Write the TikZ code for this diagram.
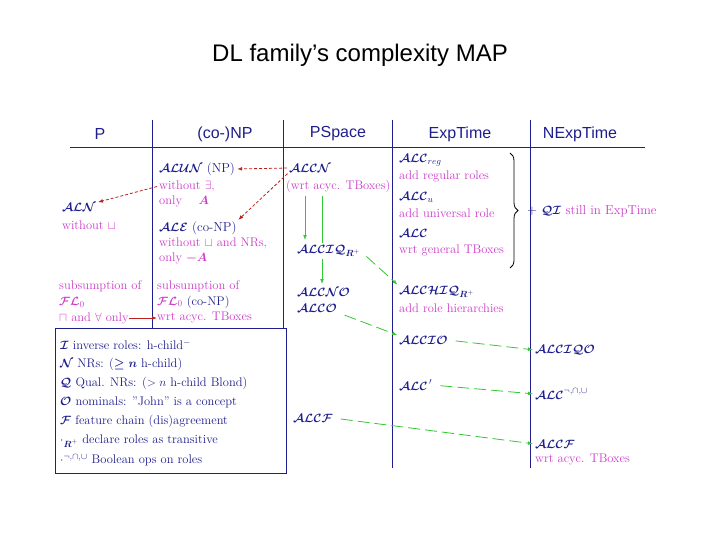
\documentclass[tikz,border=0pt]{standalone}
\usepackage{fontspec}
\usepackage{amsmath,amssymb}
\newfontfamily\arial{Liberation Sans}
\usetikzlibrary{decorations.pathreplacing,arrows.meta}
\definecolor{navy}{RGB}{30,30,140}
\definecolor{mag}{RGB}{205,60,200}
\definecolor{dred}{RGB}{190,30,30}
\definecolor{grn}{RGB}{50,200,50}
\tikzset{
 hd/.style={font=\arial\fontsize{16}{18}\selectfont, text=navy},
 dl/.style={anchor=west, inner sep=0, text=navy, font=\fontsize{13}{15}\selectfont},
 ds/.style={anchor=west, inner sep=0, text=mag, font=\fontsize{12.5}{14}\selectfont},
 lg/.style={anchor=west, inner sep=0, text=navy, font=\fontsize{12.5}{14}\selectfont},
 rl/.style={dred, thick, densely dashed, -{Latex[length=5pt]}, shorten <=2pt, shorten >=2pt},
 gl/.style={grn, thick, -{Latex[length=5pt]}},
 gd/.style={grn, thick, dash pattern=on 12pt off 5pt, -{Latex[length=5pt]}, shorten <=8pt, shorten >=2pt},
 vl/.style={navy, thin}
}
\newcommand{\BC}[1]{\boldsymbol{\mathcal{#1}}}
\begin{document}
\begin{tikzpicture}[x=1pt,y=-1pt]
\useasboundingbox (0,0) rectangle (720,540);
\node[font=\arial\fontsize{24}{28}\selectfont] (title) at (360,55) {DL family’s complexity MAP};
\node[hd] (hP) at (100,134) {P};
\node[hd] (hNP) at (225,134) {(co-)NP};
\node[hd] (hPS) at (338,134) {PSpace};
\node[hd] (hE) at (460,134) {ExpTime};
\node[hd] (hNE) at (580,134) {NExpTime};
\draw[vl] (70,147) -- (645,147);
\draw[vl] (152,120) -- (152,328);
\draw[vl] (283,120) -- (283,328);
\draw[vl] (392,120) -- (392,468);
\draw[vl] (530,120) -- (530,468);
\draw[navy, thick] (55,328) rectangle (286,473);
\node[lg] (l1) at (60,345) {$\BC I$ inverse roles: h-child$^-$};
\node[lg] (l2) at (60,364) {$\BC N$ NRs: ($\boldsymbol{\ge n}$ h-child)};
\node[lg] (l3) at (60,383) {$\BC Q$ Qual. NRs: ($> n$ h-child Blond)};
\node[lg] (l4) at (60,402) {$\BC O$ nominals: "John" is a concept};
\node[lg] (l5) at (60,421) {$\BC F$ feature chain (dis)agreement};
\node[lg] (l6) at (60,441) {$\cdot_{\boldsymbol{R}^+}$ declare roles as transitive};
\node[lg] (l7) at (60,460) {$\cdot^{\neg,\cap,\cup}$ Boolean ops on roles};
\node[dl] (ALN) at (62,207) {$\BC{ALN}$};
\node[ds] (ALNd) at (62,225) {without $\sqcup$};
\node[ds] (s1a) at (59,286) {subsumption of};
\node[ds] (s1b) at (59,302) {$\BC{FL}_0$};
\node[ds] (s1c) at (59,318) {$\sqcap$ and $\forall$ only};
\node[dl] (ALUN) at (159,169) {$\BC{ALUN}$ (NP)};
\node[ds] (ALUNd) at (159,186) {without $\exists$,};
\node[ds] (ALUNe) at (159,201) {only \quad $\boldsymbol{A}$};
\node[dl] (ALE) at (159,228) {$\BC{ALE}$ (co-NP)};
\node[ds] (ALEd) at (159,243) {without $\sqcup$ and NRs,};
\node[ds] (ALEe) at (159,258) {only $\boldsymbol{-A}$};
\node[ds] (s2a) at (157,286) {subsumption of};
\node[ds] (s2b) at (157,302) {$\BC{FL}_0$ \textcolor{navy}{(co-NP)}};
\node[ds] (s2c) at (157,318) {wrt acyc. TBoxes};
\node[dl] (ALCN) at (289,168) {$\BC{ALCN}$};
\node[ds] (ALCNd) at (286,186) {(wrt acyc. TBoxes)};
\node[dl] (ALCIQ) at (297,251) {$\BC{ALCIQ}_{\boldsymbol{R}^+}$};
\node[dl] (ALCNO) at (297,292) {$\BC{ALCNO}$};
\node[dl] (ALCO) at (297,308) {$\BC{ALCO}$};
\node[dl] (ALCF1) at (293,418) {$\BC{ALCF}$};
\node[dl] (ALCreg) at (399,160) {$\BC{ALC}_{reg}$};
\node[ds] (regd) at (399,176) {add regular roles};
\node[dl] (ALCu) at (399,197) {$\BC{ALC}_u$};
\node[ds] (ud) at (399,213) {add universal role};
\node[dl] (ALC) at (399,233) {$\BC{ALC}$};
\node[ds] (ALCd) at (399,250) {wrt general TBoxes};
\draw[thick, decorate, decoration={brace, amplitude=8pt}] (510,153) -- (510,268);
\node[dl] (QI) at (527,211) {+ $\BC{QI}$ \textcolor{mag}{still in ExpTime}};
\node[dl] (ALCHIQ) at (399,292) {$\BC{ALCHIQ}_{\boldsymbol{R}^+}$};
\node[ds] (hid) at (399,308) {add role hierarchies};
\node[dl] (ALCIO) at (399,340) {$\BC{ALCIO}$};
\node[dl] (ALCp) at (399,385) {$\BC{ALC}^{\,\prime}$};
\node[dl] (ALCIQO) at (535,350) {$\BC{ALCIQO}$};
\node[dl] (ALCb) at (535,394) {$\BC{ALC}^{\neg,\cap,\cup}$};
\node[dl] (ALCF2) at (535,444) {$\BC{ALCF}$};
\node[ds] (F2d) at (535,460) {wrt acyc. TBoxes};
\draw[rl] (ALCN.west) -- (ALUN.east);
\draw[rl] (ALCN.south west) -- (ALE.north east);
\draw[rl] (ALUNd.west) -- (ALN.north east);
\draw[dred, thick, -{Latex[length=5pt]}] (s1c.east) -- (s2c.west);
\draw[gl] (305,196) -- (305,240);
\draw[grn, thick] (322,196) -- (322,243);
\draw[gl] (322,259) -- (322,284);
\draw[gd] (ALCIQ.east) -- (ALCHIQ.north west);
\draw[gd] (ALCO.south east) -- (ALCIO.north west);
\draw[gd] (ALCIO.east) -- (ALCIQO.west);
\draw[gd] (ALCp.east) -- (ALCb.west);
\draw[gd] (ALCF1.east) -- (ALCF2.west);
\end{tikzpicture}
\end{document}
